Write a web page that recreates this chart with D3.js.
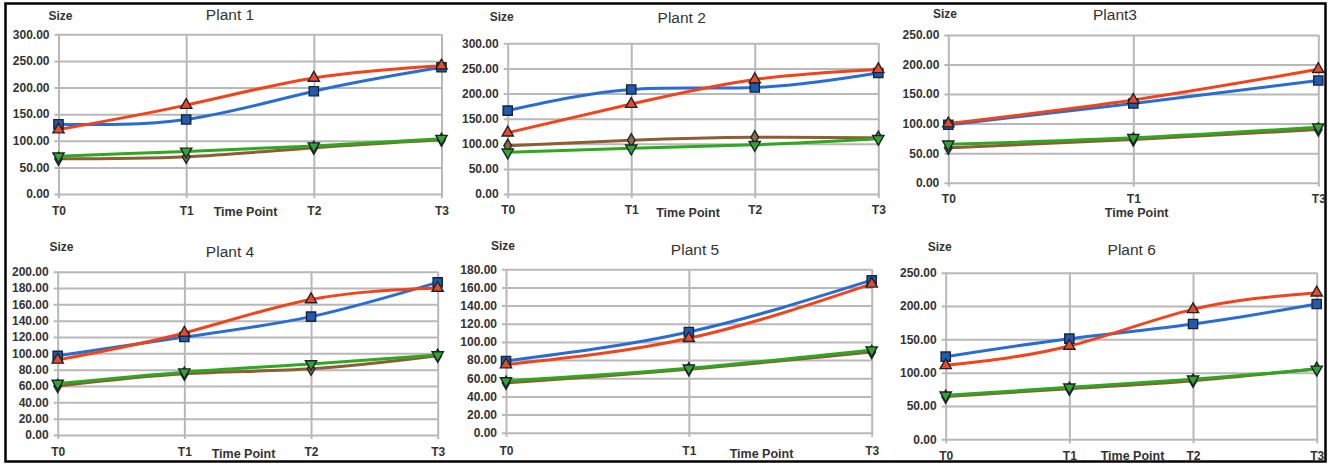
<!DOCTYPE html>
<html>
<head>
<meta charset="utf-8">
<script src="https://cdn.jsdelivr.net/npm/d3@7"></script>
<style>
  html, body { margin: 0; padding: 0; background: #fff; }
  svg { display: block; }
  text { font-family: "Liberation Sans", Arial, sans-serif; }
</style>
</head>
<body>
<svg id="chart" width="1330" height="465"></svg>
<script>
// ---------- DATA ----------
const titles = ["Plant 1", "Plant 2", "Plant3", "Plant 4", "Plant 5", "Plant 6"];
const catsFour = ["T0", "T1", "T2", "T3"];
const catsThree = ["T0", "T1", "T3"];
const seriesNames = ["Series square", "Series triangle up", "Series diamond", "Series triangle down"];

// order of each inner array follows seriesNames: square(blue), triangle up(red), diamond(brown), triangle down(green)
const plant1Values = [[131, 140, 193, 238], [121, 167, 218, 241], [66, 70, 87, 102], [71, 80, 90, 104]];
const plant2Values = [[166, 208, 212, 241], [122, 179, 228, 248], [96, 107, 113, 112], [83, 91, 98, 110]];
const plant3Values = [[98, 134, 173], [100, 140, 192], [59, 73, 90], [65, 76, 94]];
const plant4Values = [[97, 120, 145, 187], [92, 125, 166, 180], [60, 75, 81, 97], [63, 77, 87, 98]];
const plant5Values = [[79, 111, 168], [75, 104, 164], [55, 70, 89], [57, 71, 91]];
const plant6Values = [[124, 151, 173, 203], [111, 140, 195, 220], [64, 76, 88, 106], [66, 78, 90, 105]];

const yMax = [300, 300, 250, 200, 180, 250];
const yStep = [50, 50, 50, 20, 20, 50];
const yAxisTitle = "Size";
const xAxisTitle = "Time Point";

// ---------- LAYOUT / STYLE ----------
const layout = [
  { cats: catsFour,  values: plant1Values, l: 58.5,  r: 441.5,  t: 34.3,  b: 194,   size: [60.5, 16],   title: [230, 15],    tickY: 211,   xTitle: [245.5, 212] },
  { cats: catsFour,  values: plant2Values, l: 507.7, r: 878.3,  t: 43.3,  b: 194,   size: [501.7, 17],  title: [681.7, 17.5], tickY: 210,  xTitle: [688, 212.5] },
  { cats: catsThree, values: plant3Values, l: 948.3, r: 1318.3, t: 35,    b: 182.7, size: [945, 13.5],  title: [1115, 15],   tickY: 199,   xTitle: [1136.7, 212.5] },
  { cats: catsFour,  values: plant4Values, l: 57.7,  r: 437.7,  t: 271.7, b: 435,   size: [61.5, 247],  title: [230, 252],   tickY: 452,   xTitle: [243.5, 453.5] },
  { cats: catsThree, values: plant5Values, l: 506,   r: 871.7,  t: 269.3, b: 432.7, size: [503, 245.5], title: [695, 249.5], tickY: 450.5, xTitle: [761.5, 453.5] },
  { cats: catsFour,  values: plant6Values, l: 945.7, r: 1316.7, t: 272.7, b: 439.3, size: [939.7, 247], title: [1131.7, 249.5], tickY: 455.5, xTitle: [1132.5, 455.5] }
];

const lineColors = ["#2a6dd2", "#f2441c", "#8b5e34", "#2ea81f"];
const markerFill = ["#2259b0", "#ea4a26", "#8e6a3c", "#33a52a"];
const markerTypes = [d3.symbolSquare, d3.symbolTriangle, d3.symbolDiamond, d3.symbolTriangle];
const markerRot = [0, 0, 0, 180];
const markerSize = [85, 55, 50, 55];
const drawOrder = [0, 1, 2, 3];

const gridColor = "#b8b8b8";
const textColor = "#333333";

const svg = d3.select("#chart");

// outer frame
svg.append("rect")
  .attr("x", 5.5).attr("y", 3.5)
  .attr("width", 1320).attr("height", 458)
  .attr("fill", "none").attr("stroke", "#000").attr("stroke-width", 2.5);

layout.forEach((p, i) => {
  const g = svg.append("g");
  const x = d3.scalePoint().domain(p.cats).range([p.l, p.r]).padding(0);
  const y = d3.scaleLinear().domain([0, yMax[i]]).range([p.b, p.t]);
  const yTicks = d3.range(0, yMax[i] + 0.001, yStep[i]);

  // horizontal gridlines + y ticks
  const yAxis = d3.axisLeft(y).tickValues(yTicks).tickSize(-(p.r - p.l)).tickSizeOuter(0)
    .tickFormat(d3.format(".2f")).tickPadding(9);
  const ya = g.append("g").attr("transform", `translate(${p.l},0)`).call(yAxis);
  ya.select(".domain").remove();
  ya.selectAll(".tick line").attr("stroke", gridColor).attr("stroke-width", 2)
    .attr("x1", -4);
  ya.selectAll(".tick text")
    .attr("fill", textColor).attr("font-size", "12px").attr("font-weight", "bold")
    .attr("font-family", "Liberation Sans, Arial, sans-serif");

  // vertical gridlines + x ticks
  const xAxis = d3.axisBottom(x).tickSize(-(p.b - p.t)).tickSizeOuter(0).tickPadding(0);
  const xa = g.append("g").attr("transform", `translate(0,${p.b})`).call(xAxis);
  xa.select(".domain").remove();
  xa.selectAll(".tick line").attr("stroke", gridColor).attr("stroke-width", 2).attr("y1", 4);
  xa.selectAll(".tick text")
    .attr("y", p.tickY - p.b).attr("dy", "0.35em")
    .attr("fill", textColor).attr("font-size", "12px").attr("font-weight", "bold")
    .attr("font-family", "Liberation Sans, Arial, sans-serif");

  // titles
  g.append("text").attr("x", p.title[0]).attr("y", p.title[1]).attr("dy", "0.35em")
    .attr("text-anchor", "middle").attr("font-size", "15.5px").attr("fill", textColor)
    .text(titles[i]);
  g.append("text").attr("x", p.size[0]).attr("y", p.size[1]).attr("dy", "0.35em")
    .attr("text-anchor", "middle").attr("font-size", "12px").attr("font-weight", "bold").attr("fill", textColor)
    .text(yAxisTitle);
  g.append("text").attr("x", p.xTitle[0]).attr("y", p.xTitle[1]).attr("dy", "0.35em")
    .attr("text-anchor", "middle").attr("font-size", "12.5px").attr("font-weight", "bold").attr("fill", textColor)
    .text(xAxisTitle);

  // lines
  const line = d3.line().x((d, j) => x(p.cats[j])).y(d => y(d)).curve(d3.curveNatural);
  drawOrder.forEach(s => {
    g.append("path").datum(p.values[s])
      .attr("d", line).attr("fill", "none")
      .attr("stroke", lineColors[s]).attr("stroke-width", 3)
      .attr("stroke-linejoin", "round").attr("stroke-linecap", "round");
  });
  // markers
  drawOrder.forEach(s => {
    g.selectAll(null).data(p.values[s]).enter().append("path")
      .attr("d", d3.symbol().type(markerTypes[s]).size(markerSize[s]))
      .attr("transform", (d, j) => `translate(${x(p.cats[j])},${y(d)}) rotate(${markerRot[s]})`)
      .attr("fill", markerFill[s]).attr("stroke", "#1a2530").attr("stroke-width", 1.4);
  });
});
</script>
</body>
</html>
